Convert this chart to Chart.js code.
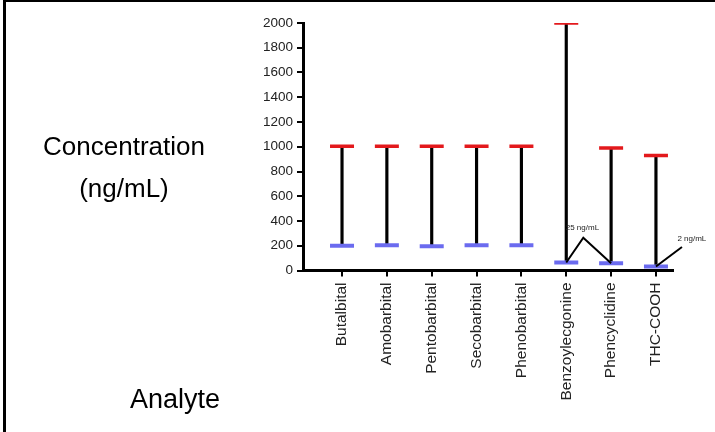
<!DOCTYPE html>
<html>
<head>
<meta charset="utf-8">
<script src="https://cdn.jsdelivr.net/npm/chart.js@4.4.1/dist/chart.umd.min.js"></script>
<style>
  body { margin: 0; background: #fff; font-family: Arial, "Liberation Sans", sans-serif; }
  #wrap { position: relative; width: 715px; height: 432px; overflow: hidden; background: #fff; }
  #frame { position: absolute; left: 3px; top: 0; width: 712px; height: 432px;
           border-top: 2px solid #000; border-left: 3px solid #000; box-sizing: border-box; }
  canvas { position: absolute; left: 0; top: 0; }
  .lbl { position: absolute; color: #000; font-size: 26px; text-align: center; white-space: nowrap; }
</style>
</head>
<body>
<div id="wrap">
  <div id="frame"></div>
  <canvas id="rangeChart" width="715" height="432"></canvas>
  <div class="lbl" style="left:24px; width:200px; top:131px;">Concentration</div>
  <div class="lbl" style="left:24px; width:200px; top:173px;">(ng/mL)</div>
  <div class="lbl" style="left:75px; width:200px; top:384px; font-size:27px;">Analyte</div>
</div>
<script>
// Data
const analytes = ['Butalbital', 'Amobarbital', 'Pentobarbital', 'Secobarbital',
  'Phenobarbital', 'Benzoylecgonine', 'Phencyclidine', 'THC-COOH'];
const upperLimit = [1005, 1005, 1005, 1005, 1005, 2000, 990, 930];
const lowerLimit = [200, 205, 195, 205, 205, 65, 58, 32];
const yTicks = [0, 200, 400, 600, 800, 1000, 1200, 1400, 1600, 1800, 2000];

// Callouts for the low cutoffs (data units)
const callouts = [
  { text: '25 ng/mL', from: [5, 6], peak: [5.38, 265], label: [5.36, 345] },
  { text: '2 ng/mL', from: [7], peak: [7.58, 190], label: [7.8, 255] }
];

const calloutPlugin = {
  id: 'callouts',
  afterDatasetsDraw(chart) {
    const { ctx, scales: { x, y } } = chart;
    ctx.save();
    ctx.strokeStyle = '#000';
    ctx.lineWidth = 2;
    ctx.fillStyle = '#222';
    ctx.font = '8px Arial, "Liberation Sans", sans-serif';
    ctx.textAlign = 'center';
    ctx.textBaseline = 'middle';
    callouts.forEach(c => {
      const px = x.getPixelForValue(c.peak[0]);
      const py = y.getPixelForValue(c.peak[1]);
      ctx.beginPath();
      c.from.forEach((i, k) => {
        const fx = x.getPixelForValue(i);
        const fy = y.getPixelForValue(lowerLimit[i]);
        if (k === 0) {
          ctx.moveTo(fx, fy);
          ctx.lineTo(px, py);
        } else {
          ctx.lineTo(fx, fy);
        }
      });
      if (c.from.length === 1) ctx.lineTo(px, py);
      ctx.stroke();
      ctx.fillText(c.text, x.getPixelForValue(c.label[0]), y.getPixelForValue(c.label[1]));
    });
    ctx.restore();
  }
};

const ctx = document.getElementById('rangeChart').getContext('2d');
new Chart(ctx, {
  type: 'scatter',
  data: {
    datasets: [
      {
        label: 'Upper',
        data: upperLimit.map((v, i) => ({ x: i, y: v })),
        pointStyle: 'line', pointRadius: 12, pointHoverRadius: 12,
        borderColor: '#e3191c', borderWidth: 3.5, order: 0
      },
      {
        label: 'Lower',
        data: lowerLimit.map((v, i) => ({ x: i, y: v })),
        pointStyle: 'line', pointRadius: 12, pointHoverRadius: 12,
        borderColor: '#6b6bef', borderWidth: 4, order: 0
      },
      {
        type: 'bar',
        label: 'Range',
        data: analytes.map((a, i) => ({ x: i, y: [lowerLimit[i], upperLimit[i]] })),
        backgroundColor: '#000', barThickness: 2.5, order: 1
      }
    ]
  },
  options: {
    responsive: false,
    animation: false,
    events: [],
    layout: { padding: { top: 23, right: 42, bottom: 0, left: 0 } },
    plugins: { legend: { display: false }, tooltip: { enabled: false } },
    scales: {
      x: {
        type: 'linear',
        offset: false,
        min: -0.87,
        max: 7.38,
        afterFit: s => { s.height = 161.5; },
        afterBuildTicks: s => { s.ticks = analytes.map((a, i) => ({ value: i })); },
        border: { display: true, color: '#000', width: 3 },
        grid: { display: true, offset: false, drawOnChartArea: false, drawTicks: true, tickLength: 6, color: '#000', lineWidth: 2 },
        ticks: {
          autoSkip: false, minRotation: 90, maxRotation: 90, padding: 6,
          color: '#222', font: { family: 'Arial, "Liberation Sans", sans-serif', size: 15.5 },
          callback: v => analytes[v]
        }
      },
      y: {
        min: 0,
        max: 2000,
        afterFit: s => { s.width = 303; },
        afterBuildTicks: s => { s.ticks = yTicks.map(v => ({ value: v })); },
        border: { display: true, color: '#000', width: 3 },
        grid: { display: true, drawOnChartArea: false, drawTicks: true, tickLength: 6, color: '#000', lineWidth: 2 },
        ticks: {
          padding: 4, color: '#222',
          font: { family: 'Arial, "Liberation Sans", sans-serif', size: 13.5 },
          callback: v => String(v)
        }
      }
    }
  },
  plugins: [calloutPlugin]
});
</script>
</body>
</html>
